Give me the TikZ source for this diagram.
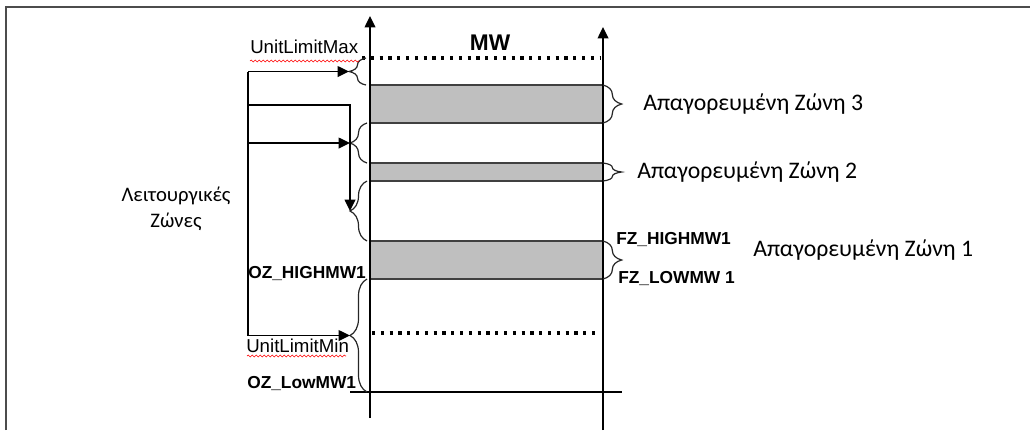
\documentclass[tikz,border=0pt]{standalone}
\usepackage{fontspec}
\setmainfont{Liberation Sans}
\newfontfamily\grk{Carlito}
\usetikzlibrary{arrows.meta,decorations.pathreplacing,decorations.pathmorphing}
\begin{document}
\begin{tikzpicture}[x=0.75pt,y=-0.75pt,
  axis/.style={line width=1.1pt,-{Triangle[length=8.5pt,width=8pt]}},
  arr/.style={line width=1.1pt,-{Triangle[length=8.5pt,width=8pt]}},
  band/.style={fill=black!25,draw=black!75,line width=1.2pt},
  dots/.style={line width=2.4pt,dash pattern=on 2.4pt off 4.2pt},
  lbrace/.style={decorate,decoration={brace,amplitude=12.75pt},line width=0.9pt,draw=black!85},
  rbrace/.style={decorate,decoration={brace,amplitude=14pt},line width=0.9pt,draw=black!85},
  lab/.style={inner sep=0pt,anchor=west,font=\fontsize{14}{16}\selectfont},
  blab/.style={inner sep=0pt,anchor=west,font=\bfseries\fontsize{13}{15}\selectfont},
  glab/.style={inner sep=0pt,anchor=west,font=\grk\fontsize{17.8}{21}\selectfont},
  squig/.style={red,line width=0.45pt,decorate,decoration={snake,amplitude=0.7pt,segment length=3pt}}]
\useasboundingbox (0,0) rectangle (1030,430);
% frame
\draw[black!70,line width=1.6pt] (6,430) -- (6,7) -- (1030,7);
% bands
\path[band] (370,85) rectangle (603,123);
\path[band] (370,163) rectangle (603,181);
\path[band] (370,241) rectangle (603,279);
% dotted limits
\draw[dots] (362,58) -- (600,58);
\draw[dots] (372,333) -- (600,333);
% bottom line
\draw[line width=1pt] (350,392) -- (622,392);
% axes
\coordinate (a1b) at (370,418);
\coordinate (a1t) at (370,16);
\coordinate (a2b) at (603,430);
\coordinate (a2t) at (603,27);
\draw[axis] (a1b) -- (a1t);
\draw[axis] (a2b) -- (a2t);
\node[inner sep=0pt,font=\bfseries\fontsize{17}{19}\selectfont] (mw) at (490,43) {MW};
% left braces
\draw[lbrace] (366,85) -- (366,58);
\draw[lbrace] (367,163) -- (367,123);
\draw[lbrace] (367,241) -- (367,181);
\draw[lbrace] (367,392) -- (367,279);
\coordinate (tA) at (349,71.5);
\coordinate (tB) at (350,143);
\coordinate (tC) at (350,211);
\coordinate (tD) at (350,335.5);
% right braces
\draw[rbrace] (603,85) -- (603,123);
\draw[rbrace] (603,163) -- (603,181);
\draw[rbrace] (603,241) -- (603,279);
% left connector tree
\coordinate (vA) at (248,71.5);
\coordinate (vB) at (248,143);
\coordinate (vC) at (248,105);
\coordinate (vD) at (248,335.5);
\draw[line width=1.1pt] (vA) -- (vD);
\draw[arr] (vA) -- (tA);
\draw[arr] (vB) -- (tB);
\draw[arr] (vC) -| (tC);
\draw[arr] (vD) -- (tD);
% labels
\node[lab] (ulmax) at (250,47) {UnitLimitMax};
\draw[squig] (250,61) -- (359,61);
\node[lab] (ulmin) at (246,346) {UnitLimitMin};
\draw[squig] (247,356) -- (346,356);
\node[blab] (ozh) at (248,273) {OZ\_HIGHMW1};
\node[blab] (ozl) at (247,383) {OZ\_LowMW1};
\node[blab] (fzh) at (616,239) {FZ\_HIGHMW1};
\node[blab] (fzl) at (618,278) {FZ\_LOWMW 1};
\node[glab] (z3) at (643,104) {Απαγορευμένη Ζώνη 3};
\node[glab] (z2) at (637,172) {Απαγορευμένη Ζώνη 2};
\node[glab] (z1) at (753,250) {Απαγορευμένη Ζώνη 1};
\node[inner sep=0pt,align=center,font=\grk\fontsize{15.5}{19.5}\selectfont] (lz) at (176,209) {Λειτουργικές\\Ζώνες};
\end{tikzpicture}
\end{document}
